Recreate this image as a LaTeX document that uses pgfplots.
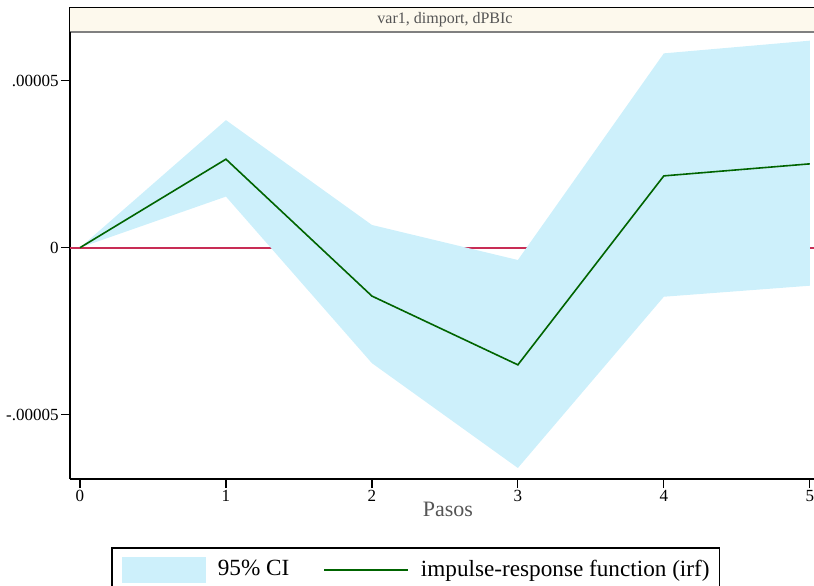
\documentclass[border=0pt]{standalone}
\usepackage{fontspec}
\setmainfont{Liberation Serif}
\usepackage{pgfplots}
\pgfplotsset{compat=1.18}

\definecolor{cifill}{RGB}{205,240,251}
\definecolor{irfgreen}{RGB}{0,100,0}
\definecolor{zeroline}{RGB}{200,45,85}
\definecolor{titlefill}{RGB}{253,249,237}
\definecolor{labelgray}{RGB}{85,85,85}

\begin{document}
\begin{tikzpicture}
% page: 814 x 585 px, 1 px = 0.5 pt
\useasboundingbox (0pt,0pt) rectangle (407pt,292.5pt);
\clip (0pt,0pt) rectangle (407pt,292.5pt);

% graph title band (Stata style)
\fill[titlefill] (34.75pt,276.65pt) rectangle (425pt,288.85pt);
\draw[black, line width=0.6pt] (34.75pt,276.65pt) -- (34.75pt,288.85pt) -- (425pt,288.85pt);
\draw[gray, line width=1pt] (34.75pt,276.65pt) -- (425pt,276.65pt);
\node[text=labelgray, font=\fontsize{8}{9}\selectfont] at (222.5pt,282.75pt) {var1, dimport, dPBIc};

\begin{axis}[
  at={(35pt,53pt)}, anchor=south west,
  scale only axis,
  width=375pt, height=223.5pt,
  xmin=-0.0685, xmax=5.07,
  ymin=-6.93e-5, ymax=6.46e-5,
  axis lines*=left,
  axis line style={-, line width=0.9pt, black},
  tick align=outside,
  major tick length=4.5pt,
  tick style={black, line width=0.6pt},
  xtick={0,1,2,3,4,5},
  xticklabels={0,1,2,3,4,5},
  ytick={-0.00005,0,0.00005},
  yticklabels={-.00005,0,.00005},
  scaled y ticks=false,
  /pgf/number format/assume math mode=true,
  ticklabel style={font=\fontsize{8.5}{10}\selectfont, inner sep=1pt},
  xlabel={Pasos},
  xlabel style={at={(axis description cs:0.504,-0.067)}, anchor=center,
    font=\fontsize{11}{13}\selectfont, text=labelgray},
  legend columns=2,
  legend style={at={(axis description cs:0.0547,-0.152)}, anchor=north west,
    draw=black, line width=0.8pt, fill=white,
    inner xsep=5pt, inner ysep=4.5pt,
    nodes={inner sep=0pt, font=\fontsize{11.6}{13}\selectfont},
    /tikz/every odd column/.append style={column sep=6pt},
    /tikz/every even column/.append style={column sep=17pt}},
  legend cell align=left,
]
% reference line at zero
\addplot[zeroline, line width=1pt, forget plot] coordinates {(-0.0685,0) (5.07,0)};

% 95% confidence band: upper bound, then lower bound reversed
\addplot[fill=cifill, draw=none, area legend,
  legend image code/.code={\fill[cifill] (0pt,-6.5pt) rectangle (42pt,6.5pt);}]
  coordinates {
    (0,0) (1,3.82e-5) (2,0.68e-5) (3,-0.37e-5) (4,5.82e-5) (5,6.20e-5)
    (5,-1.14e-5) (4,-1.47e-5) (3,-6.60e-5) (2,-3.46e-5) (1,1.53e-5) (0,0)
  } -- cycle;
\addlegendentry{95\% CI}

% impulse-response function
\addplot[irfgreen, line width=0.8pt,
  legend image code/.code={\draw[irfgreen, line width=0.8pt] (0pt,0pt) -- (42pt,0pt);}]
  coordinates {(0,0) (1,2.65e-5) (2,-1.45e-5) (3,-3.51e-5) (4,2.15e-5) (5,2.51e-5)};
\addlegendentry{impulse-response function (irf)}
\end{axis}
\end{tikzpicture}
\end{document}
